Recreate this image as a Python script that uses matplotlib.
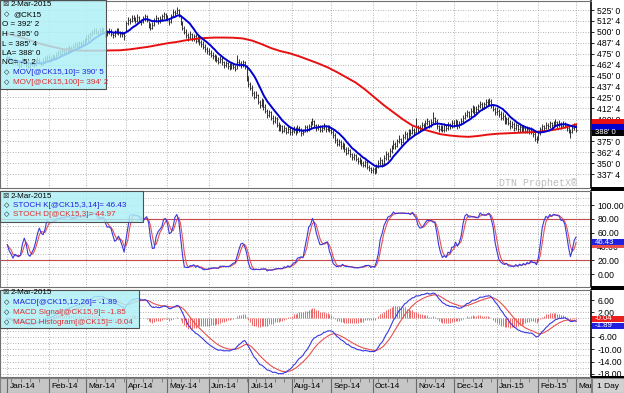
import numpy as np
import pandas as pd
import matplotlib
matplotlib.use("Agg")
import matplotlib.pyplot as plt
from matplotlib.patches import Rectangle

plt.rcParams['font.family'] = ['Liberation Sans', 'DejaVu Sans']

# daily bars of @CK15 (high, low, close) in cents
jan14 = [(474,467,470),(472,466,468),(470,464,466),(468,462,465),(470,463,467),(468,461,463),(465,458,461),(468,460,466),
         (471,464,468),(470,463,465),(467,460,462),(464,457,460),(466,459,463),(467,461,464),(466,460,462),(469,461,466),
         (471,464,468),(470,463,465),(467,461,463),(470,462,467),(472,465,469),(474,467,471)]
feb14 = [(473,466,468),(472,466,470),(475,468,472),(474,468,471),(477,470,474),(479,472,476),(479,472,475),(481,473,478),
         (481,474,477),(483,475,480),(483,476,479),(485,477,482),(484,477,480),(486,478,483),(488,481,485),(488,481,484),
         (490,482,487),(490,483,486),(491,484,488),(493,485,490)]
mar14 = [(496,488,492),(497,490,494),(500,492,497),(502,495,499),(505,497,502),(504,497,500),(502,495,498),(504,496,501),
         (506,499,503),(505,497,500),(501,494,497),(502,495,499),(504,497,501),(503,495,498),(500,493,496),(502,494,499),
         (504,497,501),(504,496,500),(501,494,497),(501,494,498),(500,491,495)]
apr14 = [(513,500,510),(517,508,514),(516,509,512),(519,511,516),(519,512,515),(517,510,513),(520,511,517),(518,511,514),
         (515,508,511),(518,510,515),(521,513,518),(519,511,514),(513,505,508),(510,502,505),(511,503,508),(516,507,513),
         (519,511,516),(517,509,512),(518,510,515),(521,513,518),(523,515,520),(522,514,517)]
may14 = [(519,512,515),(516,508,511),(521,510,518),(526,517,523),(525,518,522),(528,520,525),(526,517,520),(519,508,510),
         (512,502,505),(507,497,500),(503,493,496),(499,490,494),(501,492,497),(499,489,492),(498,490,495),(497,487,490),
         (496,488,493),(495,485,488),(491,483,486),(489,480,483),(486,477,480),(483,475,478)]
jun14 = [(481,473,476),(479,471,474),(477,469,472),(475,467,470),(473,465,468),(471,463,466),(472,464,469),(471,462,465),
         (467,459,462),(467,460,464),(466,458,461),(464,456,459),(465,457,462),(464,457,460),(462,455,458),(474,457,466),
         (469,461,464),(467,459,462),(468,460,465),(467,458,461),(462,444,447)]
jul14 = [(449,437,440),(443,433,436),(439,427,430),(432,423,426),(432,424,428),(429,417,420),(422,413,416),(424,414,421),
         (423,411,414),(417,407,410),(412,402,405),(411,403,408),(410,399,402),(405,395,398),(404,396,401),(403,391,394),
         (397,387,390),(395,387,392),(394,384,387),(393,385,390),(391,383,386),(392,384,389),(391,382,385)]
aug14 = [(390,382,387),(392,384,389),(391,382,385),(393,384,390),(392,385,388),(390,381,384),(389,382,386),(394,385,391),
         (393,385,388),(395,387,392),(398,390,395),(402,394,398),(399,390,393),(395,387,390),(395,388,392),(393,385,388),
         (393,386,390),(396,388,393),(394,386,389),(394,387,391),(393,385,388)]
sep14 = [(391,383,386),(388,379,382),(384,373,376),(379,369,372),(377,369,374),(376,366,369),(374,366,371),(373,363,366),
         (368,359,362),(368,360,365),(366,357,360),(362,354,357),(362,354,359),(360,352,355),(357,349,352),(357,349,354),
         (355,347,350),(352,345,348),(354,346,351),(353,343,346),(348,341,344),(346,339,342)]
oct14 = [(346,339,343),(345,338,340),(349,339,346),(353,344,350),(357,348,353),(355,346,349),(359,348,356),(364,354,360),
         (363,354,358),(367,357,364),(371,362,368),(376,366,372),(374,366,369),(378,368,375),(382,373,378),(379,371,374),
         (383,373,380),(387,378,383),(385,376,379),(389,378,386),(389,381,384),(392,383,388),(390,382,385)]
nov14 = [(402,384,392),(394,384,387),(393,385,390),(397,388,394),(396,389,392),(399,390,396),(401,393,398),(399,390,393),
         (400,391,397),(408,395,402),(403,395,398),(400,389,392),(394,386,389),(394,387,391),(393,385,388),(396,386,393),
         (395,387,390),(397,388,394),(396,389,392),(399,390,396)]
dec14 = [(399,391,394),(400,392,397),(399,389,392),(398,390,395),(401,393,398),(405,396,402),(408,400,405),(411,403,408),
         (410,401,404),(413,403,410),(416,407,413),(415,405,408),(415,406,412),(418,410,415),(421,413,418),(420,411,414),
         (420,412,417),(423,415,420),(423,415,419),(424,416,421),(423,413,416),(418,409,412),(414,405,408)]
jan15 = [(414,405,410),(412,403,406),(409,399,402),(408,399,404),(406,395,398),(403,395,400),(403,393,396),(399,389,392),
         (398,390,395),(397,387,390),(396,388,393),(395,386,389),(394,386,391),(393,385,388),(393,385,390),(392,384,387),
         (392,384,389),(391,383,386),(391,383,388),(389,380,383),(386,375,378),(381,373,377)]
feb15 = [(386,376,384),(391,382,389),(395,387,392),(394,387,390),(397,389,394),(396,389,392),(398,390,396),(397,390,393),
         (398,391,395),(400,392,397),(398,390,394),(399,391,396),(397,389,392),(398,390,395),(397,390,394),(395,387,390),
         (392,384,388),(389,379,385),(392,384,390),(396,388,393)]
mar15 = [(395,385.5,388)]

# 100 day moving average read every 5th bar (last value = last bar)
ma100_read = [498, 495, 492, 488, 485, 482.5, 480, 479, 478.5, 478.5, 478.5, 478.8, 479, 480, 481.5, 483,
              485, 487, 488.5, 490.5, 492, 493, 493.5, 493.5, 493.3, 492.5, 490, 486, 481.5, 478, 475.5, 472,
              468, 464, 459.5, 454, 448, 442, 434, 425, 416, 408, 400, 393, 389, 386, 383, 381.5, 380.5, 380,
              381, 382.5, 383.5, 384, 384.5, 385, 385.5, 386.5, 388, 390, 393, 394.25]

# the last month label is cut off by the scale column in the original
month_labels = ['Jan-14', 'Feb-14', 'Mar-14', 'Apr-14', 'May-14', 'Jun-14', 'Jul-14', 'Aug-14',
                'Sep-14', 'Oct-14', 'Nov-14', 'Dec-14', 'Jan-15', 'Feb-15', 'Mar']

# values printed in the legends
last_date = '2-Mar-2015'
ma10_last = 390.625
ma100_last = 394.25
close_last = 388.0
stk_last, std_last = 46.43, 44.97
macd_last, sig_last, hist_last = -1.89, -1.85, -0.04

bars = jan14 + feb14 + mar14 + apr14 + may14 + jun14 + jul14 + aug14 + sep14 + oct14 + nov14 + dec14 + jan15 + feb15 + mar15
hi = np.array([b[0] for b in bars], float)
lo = np.array([b[1] for b in bars], float)
cl = np.array([b[2] for b in bars], float)
n = len(cl)
x = np.arange(n)
dates = pd.bdate_range('2014-01-02', periods=n)

s = pd.Series(cl)
ma10 = s.rolling(10, min_periods=1).mean().values
ma100_x = np.r_[np.arange(0, 5 * (len(ma100_read) - 1), 5), n - 1]

# slow stochastic 14,3,3
hh = pd.Series(hi).rolling(14, min_periods=1).max()
ll = pd.Series(lo).rolling(14, min_periods=1).min()
fast_k = 100 * (s - ll) / (hh - ll)
stoch_k = fast_k.rolling(3, min_periods=1).mean()
stoch_d = stoch_k.rolling(3, min_periods=1).mean()

# macd 12,26,9
macd = s.ewm(span=12, adjust=False).mean() - s.ewm(span=26, adjust=False).mean()
signal = macd.ewm(span=9, adjust=False).mean()
hist = macd - signal

mstart = np.r_[0, np.where(dates.month[1:] != dates.month[:-1])[0] + 1]
mondays = np.where(dates.weekday == 0)[0]

W, H = 624, 393
fig = plt.figure(figsize=(W / 100, H / 100), dpi=100)
fig.patch.set_facecolor('white')


def rect(x0, y0, x1, y1):
    return [x0 / W, 1 - y1 / H, (x1 - x0) / W, (y1 - y0) / H]


def eighths(v):
    whole = int(np.floor(v))
    return "%d' %d" % (whole, int(round((v - whole) * 8)))


xlim = (-3.9, 309.9)
grid_kw = dict(ls=(0, (1, 2)), color='#9c9c9c', lw=0.6)

ax1 = fig.add_axes(rect(0, 1, 591, 188))
ax2 = fig.add_axes(rect(0, 191, 591, 287))
ax3 = fig.add_axes(rect(0, 290, 591, 377))
axs = fig.add_axes(rect(0, 378, 591, 393))

for ax in (ax1, ax2, ax3):
    ax.set_xlim(*xlim)
    ax.set_xticks(mstart)
    ax.tick_params(axis='x', length=0, labelbottom=False)
    ax.yaxis.tick_right()
    ax.tick_params(axis='y', which='major', labelsize=6.2, length=2.5, width=0.6, pad=2)
    ax.tick_params(axis='y', which='minor', length=0)
    ax.grid(True, axis='x', **grid_kw)
    for sp in ax.spines.values():
        sp.set_color('#707070')
        sp.set_linewidth(0.8)
    ax.spines['right'].set_color('black')
    ax.spines['right'].set_linewidth(1.2)

# price panel (the 387'4 label sits under the last price box)
ax1.set_ylim(321.5, 535.3)
pt = np.arange(337.5, 525.1, 12.5)
ax1.set_yticks(pt)
ax1.set_yticklabels(['' if v == 387.5 else eighths(v) for v in pt])
ax1.grid(True, axis='y', **grid_kw)
ax1.vlines(x, lo, hi, color='#303030', lw=0.7)
ax1.hlines(cl, x, x + 0.5, color='#303030', lw=0.7)
ax1.plot(ma100_x, ma100_read, color='#e81010', lw=1.4)
ax1.plot(x, ma10, color='#0000d0', lw=1.4)

# stochastics
ax2.set_ylim(-18.3, 120.2)
ax2.set_yticks(np.arange(0, 101, 20))
ax2.set_yticks(np.arange(0, 111, 10), minor=True)
ax2.set_yticklabels(['%.2f' % v for v in np.arange(0, 101, 20)])
ax2.grid(True, axis='y', which='both', **grid_kw)
ax2.axhline(80, color='#c84848', lw=0.8)
ax2.axhline(20, color='#c84848', lw=0.8)
ax2.plot(x, stoch_d, color='#e85050', lw=0.8)
ax2.plot(x, stoch_k, color='#3838e0', lw=0.8)

# macd (the -2.00 label sits under the value boxes)
ax3.set_ylim(-19.0, 9.25)
mt = [6, 2, -2, -6, -10, -14, -18]
ax3.set_yticks(mt)
ax3.set_yticks(np.arange(-18, 9, 2), minor=True)
ax3.set_yticklabels(['' if v == -2 else '%.2f' % v for v in mt])
ax3.grid(True, axis='y', which='both', **grid_kw)
ax3.vlines(x, 0, hist, color='#e85050', lw=0.6)
ax3.plot(x, signal, color='#e85050', lw=0.8)
ax3.plot(x, macd, color='#3838e0', lw=0.8)

# date strip
axs.set_xlim(*xlim)
axs.set_ylim(0, 1)
axs.set_facecolor('#c6c6c6')
axs.set_xticks([])
axs.set_yticks([])
for sp in axs.spines.values():
    sp.set_color('#808080')
    sp.set_linewidth(0.8)
axs.vlines(mondays, 0.72, 1, color='#606060', lw=0.5)
axs.vlines(mstart, 0, 1, color='#6a6a6a', lw=0.8)
for i, lab in zip(mstart, month_labels):
    axs.text(i + 1.2, 0.42, lab, fontsize=6, va='center', ha='left', clip_on=True)

fig.add_artist(Rectangle((592 / W, 0), 32 / W, 15 / H, transform=fig.transFigure,
                         fc='#d2d2d2', ec='#808080', lw=0.8))
fig.text(608 / W, 1 - 386 / H, '1 Day', fontsize=6, ha='center', va='center')

# black bars between panels in the scale column
for y0, y1 in [(186.5, 191), (286, 290), (376, 378)]:
    fig.add_artist(Rectangle((591 / W, 1 - y1 / H), 33 / W, (y1 - y0) / H,
                             transform=fig.transFigure, fc='black', ec='none'))


def ypx(top, bot, ylim, v):
    return top + (ylim[1] - v) / (ylim[1] - ylim[0]) * (bot - top)


def value_box(py, text, fc, h=6.0):
    fig.add_artist(Rectangle((592 / W, 1 - (py + h / 2) / H), 32 / W, h / H,
                             transform=fig.transFigure, fc=fc, ec='none'))
    if text:
        fig.text(595 / W, 1 - py / H, text, fontsize=5.6, color='white', va='center', ha='left')


# boxes that sit under another box carry no readable text in the original
value_box(ypx(1, 188, ax1.get_ylim(), ma100_last) - 2.2, '', '#e81010')
value_box(ypx(1, 188, ax1.get_ylim(), ma10_last) - 0.5, '', '#0000d0')
value_box(ypx(1, 188, ax1.get_ylim(), close_last) + 2.7, eighths(close_last), 'black')
value_box(ypx(191, 287, ax2.get_ylim(), std_last) + 1.5, '', '#e85050')
value_box(ypx(191, 287, ax2.get_ylim(), stk_last), '%.2f' % stk_last, '#2020e0')
value_box(ypx(290, 377, ax3.get_ylim(), hist_last) + 0.3, '%.2f' % hist_last, '#e82020')
value_box(ypx(290, 377, ax3.get_ylim(), macd_last) + 1.3, '%.2f' % macd_last, '#2020e0')

fig.text(499 / W, 1 - 183 / H, 'DTN ProphetX®', fontsize=7.2, color='#bcbcbc',
         family=['Liberation Mono', 'DejaVu Sans Mono'], va='center', ha='left')


# legend boxes
def legend_box(x1, y0, y1, lines):
    fig.add_artist(Rectangle((0, 1 - y1 / H), x1 / W, (y1 - y0) / H, transform=fig.transFigure,
                             fc=(0.68, 0.94, 0.97, 0.84), ec='#505050', lw=0.8))
    for py, bullet, txt, col in lines:
        if bullet == 'icon':
            fig.text(2 / W, 1 - py / H, '⊠', fontsize=5.5, va='center', ha='left', color='#404040')
            fig.text(11 / W, 1 - py / H, txt, fontsize=5.8, va='center', ha='left', color=col)
        elif bullet:
            fig.text(4 / W, 1 - py / H, '◇', fontsize=5, va='center', ha='left', color='black', weight='bold')
            fig.text(13 / W, 1 - py / H, txt, fontsize=5.8, va='center', ha='left', color=col)
        else:
            fig.text(2 / W, 1 - py / H, txt, fontsize=5.8, va='center', ha='left', color=col)


legend_box(106, 0, 89, [
    (5, 'icon', last_date, 'black'),
    (15, True, '@CK15', 'black'),
    (25, False, "O = 392' 2", 'black'),
    (35, False, "H = 395' 0", 'black'),
    (44.5, False, "L = 385' 4", 'black'),
    (53.5, False, "LA= 388' 0", 'black'),
    (63, False, "NC= -5' 2", 'black'),
    (73, True, 'MOV[@CK15,10]= %s' % eighths(ma10_last), '#2020e0'),
    (83, True, 'MOV[@CK15,100]= %s' % eighths(ma100_last), '#e03030'),
])
legend_box(143, 191, 222, [
    (196, 'icon', last_date, 'black'),
    (205.5, True, 'STOCH K[@CK15,3,14]= %.2f' % stk_last, '#2020e0'),
    (215, True, 'STOCH D[@CK15,3]= %.2f' % std_last, '#e03030'),
])
legend_box(139, 290, 328, [
    (292.5, 'icon', last_date, 'black'),
    (302.5, True, 'MACD[@CK15,12,26]= %.2f' % macd_last, '#2020e0'),
    (312.5, True, 'MACD Signal[@CK15,9]= %.2f' % sig_last, '#e03030'),
    (322.5, True, 'MACD Histogram[@CK15]= %.2f' % hist_last, '#e03030'),
])

fig.savefig('out.png', dpi=100)
